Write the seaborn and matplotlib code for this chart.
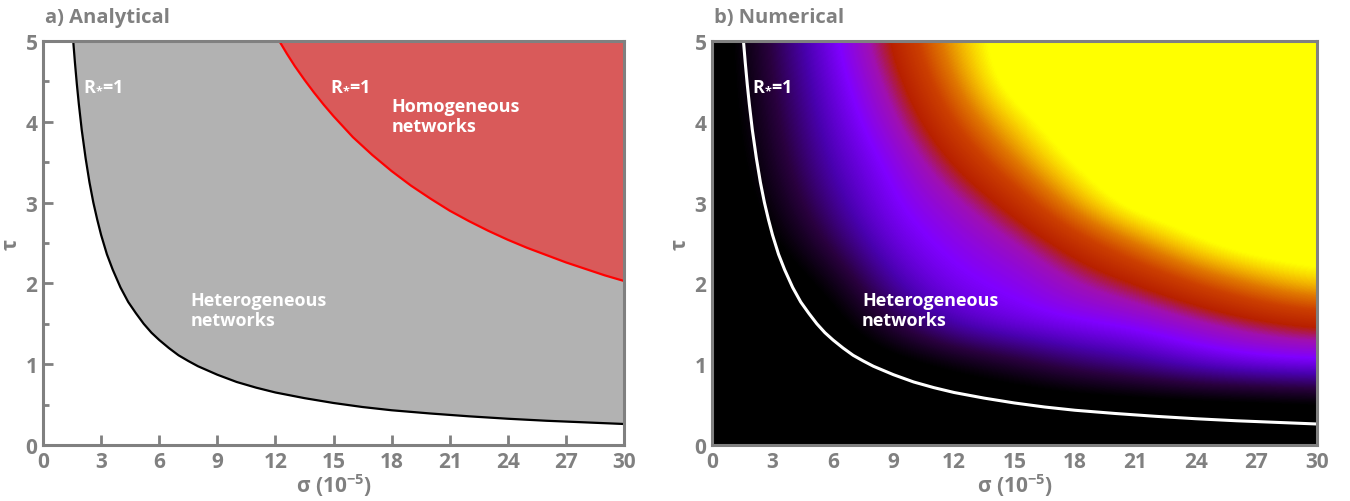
import numpy as np
import pandas as pd
import matplotlib
matplotlib.use("Agg")
import matplotlib.pyplot as plt
import seaborn as sns
from matplotlib.colors import LinearSegmentedColormap

# ---------------- data ----------------
# R*=1 curve for heterogeneous networks (sigma in 1e-5, tau)
het_sigma = [1.56, 1.65, 1.75, 1.85, 2.0, 2.2, 2.4, 2.6, 2.8, 3.0, 3.3, 3.6, 4.0, 4.4, 4.8, 5.2, 5.6,
             6.0, 6.5, 7.0, 7.5, 8.0, 9.0, 10.0, 11.0, 12.0, 13.5, 15.0, 16.5, 18.0, 20.0, 22.0,
             24.0, 26.0, 28.0, 30.0]
het_tau = [5.0, 4.73, 4.46, 4.22, 3.9, 3.55, 3.25, 3.0, 2.79, 2.6, 2.36, 2.17, 1.95, 1.77, 1.63, 1.5, 1.39,
           1.3, 1.2, 1.11, 1.04, 0.975, 0.87, 0.78, 0.71, 0.65, 0.58, 0.52, 0.47, 0.43, 0.39, 0.355,
           0.325, 0.3, 0.28, 0.26]
# R*=1 curve for homogeneous networks
hom_sigma = [12.2, 12.6, 13.0, 13.5, 14.0, 14.5, 15.0, 16.0, 17.0, 18.0, 19.0, 20.0, 21.0, 22.0,
             23.0, 24.0, 25.0, 26.0, 27.0, 28.0, 29.0, 30.0]
hom_tau = [5.0, 4.84, 4.69, 4.52, 4.36, 4.21, 4.07, 3.81, 3.59, 3.39, 3.21, 3.05, 2.9, 2.77,
           2.65, 2.54, 2.44, 2.35, 2.26, 2.18, 2.1, 2.03]

# numerical map (normalised level 0..1) on a coarse grid
grid_sigma = [0, 3, 6, 9, 12, 15, 18, 21, 24, 27, 30]
grid_tau = [0.0, 0.5, 1.0, 1.5, 2.0, 2.5, 3.0, 3.5, 4.0, 4.5, 5.0]
level = [
    [0.00, 0.00, 0.00, 0.00, 0.00, 0.00, 0.00, 0.00, 0.00, 0.00, 0.00],  # tau 0.0
    [0.00, 0.00, 0.00, 0.00, 0.00, 0.00, 0.00, 0.00, 0.00, 0.00, 0.02],  # tau 0.5
    [0.00, 0.00, 0.00, 0.02, 0.08, 0.15, 0.24, 0.30, 0.38, 0.43, 0.45],  # tau 1.0
    [0.00, 0.00, 0.02, 0.20, 0.36, 0.42, 0.45, 0.47, 0.53, 0.59, 0.63],  # tau 1.5
    [0.00, 0.00, 0.10, 0.33, 0.44, 0.46, 0.54, 0.61, 0.72, 0.82, 0.90],  # tau 2.0
    [0.00, 0.05, 0.22, 0.41, 0.47, 0.53, 0.66, 0.80, 0.94, 1.00, 1.00],  # tau 2.5
    [0.00, 0.10, 0.30, 0.45, 0.52, 0.65, 0.85, 1.00, 1.00, 1.00, 1.00],  # tau 3.0
    [0.00, 0.14, 0.35, 0.47, 0.62, 0.80, 0.96, 1.00, 1.00, 1.00, 1.00],  # tau 3.5
    [0.00, 0.17, 0.38, 0.53, 0.72, 0.90, 1.00, 1.00, 1.00, 1.00, 1.00],  # tau 4.0
    [0.00, 0.19, 0.41, 0.58, 0.80, 1.00, 1.00, 1.00, 1.00, 1.00, 1.00],  # tau 4.5
    [0.00, 0.21, 0.44, 0.63, 0.86, 1.00, 1.00, 1.00, 1.00, 1.00, 1.00],  # tau 5.0
]

x_ticks = [0, 3, 6, 9, 12, 15, 18, 21, 24, 27, 30]
y_ticks = [0, 1, 2, 3, 4, 5]

# ---------------- style ----------------
sns.set_theme(style="ticks")
plt.rcParams['font.family'] = ['Open Sans', 'DejaVu Sans']
plt.rcParams['font.weight'] = 'bold'
plt.rcParams['mathtext.fontset'] = 'custom'
plt.rcParams['mathtext.rm'] = 'Open Sans:bold'
plt.rcParams['mathtext.it'] = 'Open Sans:bold'
plt.rcParams['mathtext.bf'] = 'Open Sans:bold'

GRAY = '#808080'
fig = plt.figure(figsize=(13.5, 5.02), dpi=100)
axA = fig.add_axes([43/1350, 56/502, 581/1350, 404/502])
axB = fig.add_axes([712/1350, 56/502, 605/1350, 404/502])

cmap = LinearSegmentedColormap.from_list('numap', [
    (0.0, '#000000'), (0.08, '#000000'), (0.2, '#2a0040'), (0.33, '#4a00b0'),
    (0.45, '#8000ff'), (0.55, '#a010b0'), (0.62, '#b82000'), (0.72, '#cc4000'),
    (0.80, '#e07800'), (0.87, '#f5c000'), (0.93, '#ffff00'), (1.0, '#ffff00')])

het = pd.DataFrame({'sigma': het_sigma, 'tau': het_tau})
hom = pd.DataFrame({'sigma': hom_sigma, 'tau': hom_tau})

# ---------- panel a ----------
axA.set_facecolor('white')
axA.fill_between(het['sigma'], het['tau'], 5, color='#b2b2b2', lw=0, zorder=1)
axA.fill_between(hom['sigma'], hom['tau'], 5, color='#d95a5a', lw=0, zorder=2)
sns.lineplot(data=het, x='sigma', y='tau', ax=axA, color='black', lw=1.6, sort=False, zorder=3)
sns.lineplot(data=hom, x='sigma', y='tau', ax=axA, color='#ff0000', lw=1.6, sort=False, zorder=3)

# ---------- panel b ----------
ds = (grid_sigma[1] - grid_sigma[0]) / 2
dt = (grid_tau[1] - grid_tau[0]) / 2
axB.imshow(np.array(level), origin='lower', cmap=cmap, vmin=0, vmax=1,
           extent=[grid_sigma[0] - ds, grid_sigma[-1] + ds, grid_tau[0] - dt, grid_tau[-1] + dt],
           aspect='auto', interpolation='bicubic', zorder=1)
sns.lineplot(data=het, x='sigma', y='tau', ax=axB, color='white', lw=2.2, sort=False, zorder=3)

for ax in (axA, axB):
    ax.set_xlim(0, 30)
    ax.set_ylim(0, 5)
    ax.set_xticks(x_ticks)
    ax.set_yticks(y_ticks)
    ax.set_yticks(np.arange(0.5, 5, 1.0), minor=True)
    ax.tick_params(which='both', direction='in', top=True, right=True, colors=GRAY,
                   labelcolor=GRAY, width=2)
    ax.tick_params(which='major', length=7, labelsize=15, pad=4)
    ax.tick_params(which='minor', length=4)
    for lab in ax.get_xticklabels() + ax.get_yticklabels():
        lab.set_fontweight('bold')
    for sp in ax.spines.values():
        sp.set_color(GRAY)
        sp.set_linewidth(2.2)
        sp.set_zorder(5)
    ax.set_xlabel(r'σ (10$^{-5}$)', color=GRAY, fontsize=15, fontweight='bold', labelpad=0)
    ax.set_ylabel('τ', color=GRAY, fontsize=15, fontweight='bold', labelpad=3)

# annotations
txt = dict(color='white', fontsize=13, fontweight='bold')
axA.text(2.07, 4.47, r'R$_{*}$=1', ha='left', va='center', **txt)
axA.text(14.8, 4.47, r'R$_{*}$=1', ha='left', va='center', **txt)
axA.text(18.0, 4.07, 'Homogeneous\nnetworks', ha='left', va='center', linespacing=1.1, **txt)
axA.text(7.6, 1.67, 'Heterogeneous\nnetworks', ha='left', va='center', linespacing=1.1, **txt)
axB.text(1.98, 4.47, r'R$_{*}$=1', ha='left', va='center', **txt)
axB.text(7.44, 1.67, 'Heterogeneous\nnetworks', ha='left', va='center', linespacing=1.1, **txt)

fig.text(45/1350, 1 - 18/502, 'a) Analytical', color=GRAY, fontsize=14.5, fontweight='bold', ha='left', va='center')
fig.text(714/1350, 1 - 18/502, 'b) Numerical', color=GRAY, fontsize=14.5, fontweight='bold', ha='left', va='center')

fig.savefig('out.png', dpi=100)
